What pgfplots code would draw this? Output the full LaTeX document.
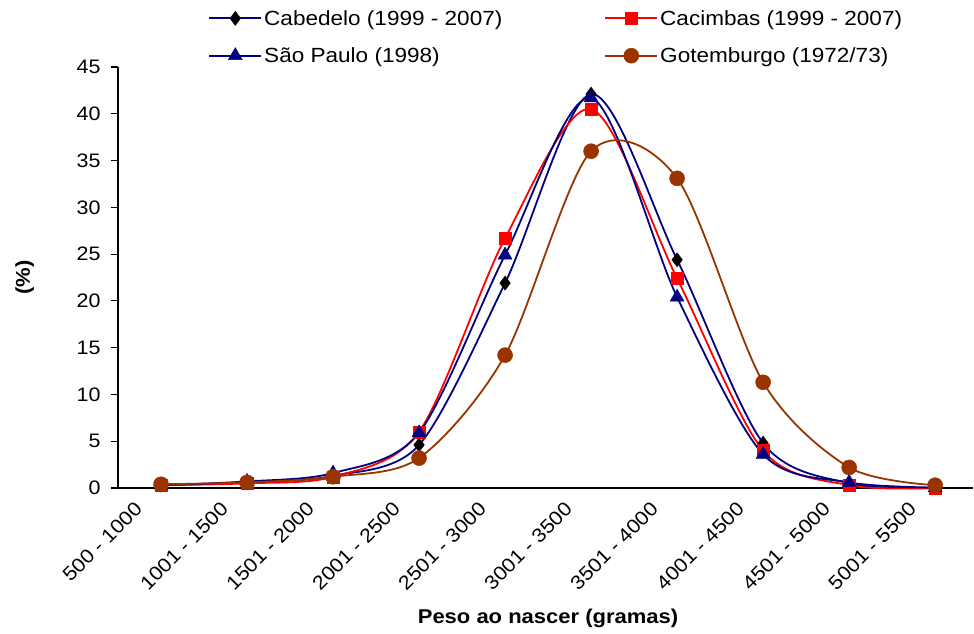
\documentclass[border=0pt]{standalone}
\usepackage{fontspec}
\setmainfont[FakeStretch=1.1]{Liberation Sans}
\usepackage{pgfplots}
\pgfplotsset{compat=1.18}
\definecolor{navy}{RGB}{0,0,128}
\definecolor{xred}{RGB}{255,0,0}
\definecolor{brownx}{RGB}{153,51,0}
\begin{document}
\begin{tikzpicture}
\begin{axis}[
  scale only axis,
  width=855pt, height=421pt,
  xmin=-0.5, xmax=9.44,
  ymin=0, ymax=45,
  ytick={0,5,...,45},
  xtick={0,...,9},
  xticklabels={500 - 1000,1001 - 1500,1501 - 2000,2001 - 2500,2501 - 3000,3001 - 3500,3501 - 4000,4001 - 4500,4501 - 5000,5001 - 5500},
  extra x ticks={-0.5,0.5,1.5,2.5,3.5,4.5,5.5,6.5,7.5,8.5},
  extra x tick labels={},
  extra x tick style={major tick length=7pt, tick style={black, line width=1.1pt}},
  axis lines=left,
  axis line style={black, line width=1.1pt, -},
  x axis line style={-},
  y axis line style={-},
  tick align=outside,
  major tick length=7pt,
  xtick style={draw=none},
  ytick style={black, line width=1.1pt},
  /pgf/number format/assume math mode=true,
  tick label style={font=\fontsize{19.5}{22}\selectfont},
  yticklabel shift=7pt,
  xticklabel style={xshift=-20pt, yshift=-8pt, rotate=45, anchor=east},
  xlabel={\textbf{Peso ao nascer (gramas)}},
  ylabel={\textbf{(\%)}},
  every axis x label/.style={at={(axis description cs:0.503,-0.31)}, anchor=center, font=\fontsize{20}{24}\selectfont},
  every axis y label/.style={at={(axis description cs:-0.109,0.5)}, rotate=90, anchor=center, font=\fontsize{20}{24}\selectfont},
  legend style={at={(axis description cs:0.102,1.145)}, anchor=north west, draw=none, fill=none,
    font=\fontsize{20.5}{24}\selectfont, row sep=17pt,
    /tikz/every even column/.append style={column sep=100pt}},
  legend columns=2,
  legend cell align=left,
  legend image code/.code={\draw[#1, mark repeat=2, mark phase=2] plot coordinates {(0pt,0pt) (26pt,0pt) (52pt,0pt)};},
  every axis plot/.append style={line width=1.8pt, smooth, tension=0.5},
  clip=false,
]
\addplot[navy, mark=diamond*, mark size=7pt, mark options={fill=black, draw=black, line width=0.5pt}]
  coordinates {(0,0.3) (1,0.6) (2,1.3) (3,4.6) (4,21.9) (5,42.1) (6,24.4) (7,4.8) (8,0.5) (9,0.0)};
\addlegendentry{Cabedelo (1999 - 2007)}
\addplot[xred, mark=square*, mark size=6pt, mark options={fill=xred, draw=xred, line width=0.5pt}]
  coordinates {(0,0.3) (1,0.5) (2,1.2) (3,6.0) (4,26.7) (5,40.5) (6,22.4) (7,4.0) (8,0.3) (9,0.0)};
\addlegendentry{Cacimbas (1999 - 2007)}
\addplot[navy, mark=triangle*, mark size=8pt, mark options={fill=navy, draw=navy, line width=0.5pt}]
  coordinates {(0,0.3) (1,0.7) (2,1.6) (3,5.9) (4,24.9) (5,41.7) (6,20.4) (7,3.6) (8,0.6) (9,0.05)};
\addlegendentry{São Paulo (1998)}
\addplot[brownx, mark=*, mark size=7.5pt, mark options={fill=brownx, draw=brownx, line width=0.5pt}]
  coordinates {(0,0.4) (1,0.6) (2,1.2) (3,3.2) (4,14.2) (5,36.0) (6,33.1) (7,11.3) (8,2.2) (9,0.3)};
\addlegendentry{Gotemburgo (1972/73)}
\end{axis}
\path[use as bounding box] (-118pt,-145pt) rectangle (856pt,488pt);
\end{tikzpicture}
\end{document}
